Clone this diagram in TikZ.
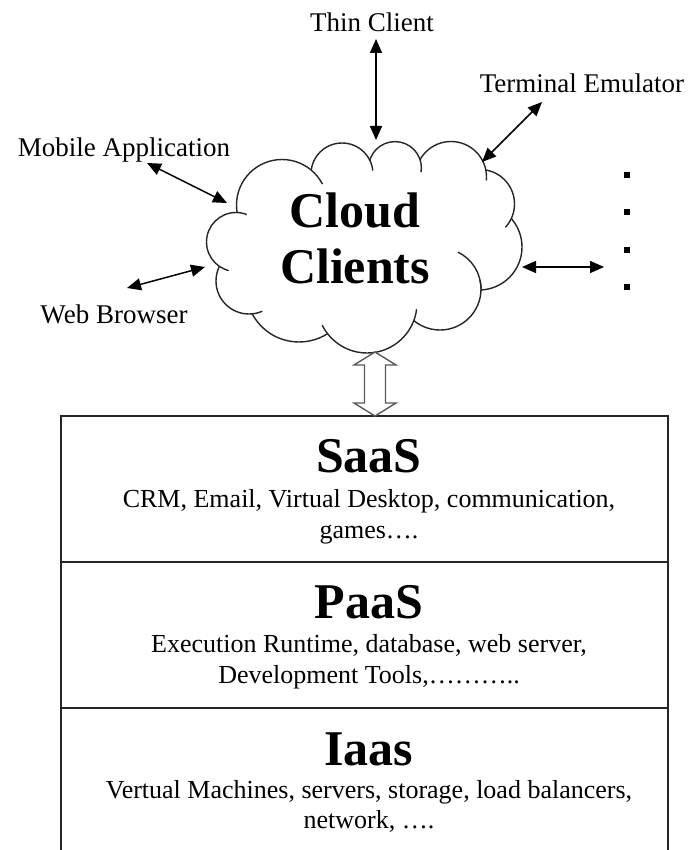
\documentclass[tikz,border=0pt]{standalone}
\usepackage{fontspec}
\setmainfont{Liberation Serif}
\usetikzlibrary{arrows.meta}
\pgfkeyssetvalue{/tails/1-2}{10}
\pgfkeyssetvalue{/tails/2-3}{8}
\pgfkeyssetvalue{/tails/3-4}{8}
\pgfkeyssetvalue{/tails/4-5}{10}
\pgfkeyssetvalue{/tails/5-6}{10}
\pgfkeyssetvalue{/tails/7-6}{10}
\pgfkeyssetvalue{/tails/8-7}{10}
\pgfkeyssetvalue{/tails/8-9}{10}
\pgfkeyssetvalue{/tails/10-9}{10}
\pgfkeyssetvalue{/tails/11-10}{10}
\pgfkeyssetvalue{/tails/11-1}{9}
\begin{document}
\begin{tikzpicture}[x=1pt,y=-1pt,
  lbl/.style={font=\fontsize{27}{30}\selectfont, inner sep=0pt, anchor=base},
  body/.style={font=\fontsize{26}{30}\selectfont, inner sep=0pt, anchor=base},
  head/.style={font=\fontsize{50}{56}\selectfont\bfseries, inner sep=0pt, anchor=base},
  conn/.style={line width=1.5pt, {Triangle[length=14pt,width=12pt]}-{Triangle[length=14pt,width=12pt]}},
  cloudline/.style={line width=1.4pt, black!85},
  layer/.style={draw=black!85, line width=1.8pt, minimum width=607pt, minimum height=146pt, inner sep=0pt},
  dotmark/.style={fill=black, minimum size=5.5pt, inner sep=0pt},
  hollow/.style={draw=black!65, fill=white, line width=1.4pt, line join=miter}
]
\useasboundingbox (0,0) rectangle (694,850);
\fill[white] (0,0) rectangle (694,850);

% layers
\node[layer] (saas) at (364.5,489) {};
\node[layer] (paas) at (364.5,635) {};
\node[layer] (iaas) at (364.5,781) {};

\node[head] (saasT) at (369,472) {SaaS};
\node[body] (saasL1) at (369,507) {CRM, Email, Virtual Desktop, communication,};
\node[body] (saasL2) at (369,538) {games\ldots.};
\node[head] (paasT) at (369,618) {PaaS};
\node[body] (paasL1) at (369,652) {Execution Runtime, database, web server,};
\node[body] (paasL2) at (369,683) {Development Tools,\ldots\ldots\ldots..};
\node[head] (iaasT) at (369,765) {Iaas};
\node[body] (iaasL1) at (369,798) {Vertual Machines, servers, storage, load balancers,};
\node[body] (iaasL2) at (369,828) {network, \ldots.};

% cloud outline
\foreach \cx/\cy/\cr [count=\ci] in {282/205/45.5, 342/174/31, 395/168/26.4, 451/177/35.5, 480/204/34.5, 479/247/43, 440/289/41, 367/303/50, 299/289/53, 249/281/33, 236/242/29.5} {
  \begin{scope}[even odd rule]
    \clip (-50,-50) rectangle (750,900) (282,205) -- (342,174) -- (395,168) -- (451,177) -- (480,204) -- (479,247) -- (440,289) -- (367,303) -- (299,289) -- (249,281) -- (236,242) -- cycle;
    \foreach \dx/\dy/\dr [count=\cj] in {282/205/45.5, 342/174/31, 395/168/26.4, 451/177/35.5, 480/204/34.5, 479/247/43, 440/289/41, 367/303/50, 299/289/53, 249/281/33, 236/242/29.5} {
      \ifnum\ci=\cj\relax\else
        \pgfkeysifdefined{/tails/\ci-\cj}{\pgfkeysgetvalue{/tails/\ci-\cj}{\sh}}{\def\sh{0}}
        \pgfmathsetmacro\rr{\dr-\sh}
        \clip (-50,-50) rectangle (750,900) (\dx,\dy) circle[radius=\rr pt];
      \fi
    }
    \draw[cloudline] (\cx,\cy) circle[radius=\cr pt];
  \end{scope}
}
\draw[cloudline] (481,289) arc[start angle=0, end angle=64, radius=41pt];

\node[head] (cloudA) at (355,227) {Cloud};
\node[head] (cloudB) at (355,283) {Clients};

% labels
\node[lbl] (thin) at (372,32) {Thin Client};
\node[lbl] (term) at (582,93) {Terminal Emulator};
\node[lbl] (mobile) at (124,157) {Mobile Application};
\node[lbl] (web) at (114,323) {Web Browser};

% dots
\node[dotmark] (d1) at (627,175) {};
\node[dotmark] (d2) at (627,212) {};
\node[dotmark] (d3) at (627,250) {};
\node[dotmark] (d4) at (627,287) {};

% connector end points
\coordinate (thinA) at (376,39);
\coordinate (thinB) at (376,140);
\coordinate (termA) at (542,102);
\coordinate (termB) at (482,162);
\coordinate (mobA) at (147,163);
\coordinate (mobB) at (227,203);
\coordinate (webA) at (127,288);
\coordinate (webB) at (205,267);
\coordinate (rightA) at (522,267);
\coordinate (rightB) at (604,267);

\draw[conn] (thinA) -- (thinB);
\draw[conn] (termA) -- (termB);
\draw[conn] (mobA) -- (mobB);
\draw[conn] (webA) -- (webB);
\draw[conn] (rightA) -- (rightB);

% hollow double arrow
\coordinate (hA) at (375,352);
\coordinate (hB) at (375,416);
\draw[hollow] (hA) -- ++(21,13) -- ++(-10.5,0) -- ++(0,38) -- ++(10.5,0) -- (hB) -- ++(-21,-13) -- ++(10.5,0) -- ++(0,-38) -- ++(-10.5,0) -- cycle;
\end{tikzpicture}
\end{document}
